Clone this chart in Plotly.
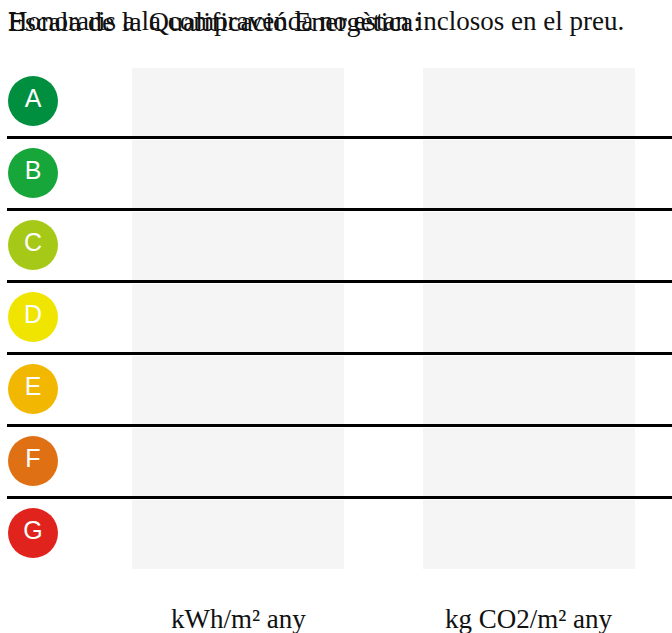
import plotly.graph_objects as go

# Data
grades = ["A", "B", "C", "D", "E", "F", "G"]
grade_colors = ["#008f3f", "#17a63a", "#a6c918", "#f0e500", "#f2b700", "#e07014", "#e0241d"]
columns = ["kWh/m² any", "kg CO2/m² any"]
title_text = "Escala de la Qualificació Energètica:"
note_text = "Honoraris a la compravenda no estan inclosos en el preu."

W, H = 672, 633
row0, pitch = 101, 72
col_left = [132, 423]
col_width = 212
serif = "Liberation Serif, Times New Roman, serif"

fig = go.Figure()

# gray value boxes (empty bars) per column
for c, lab in enumerate(columns):
    fig.add_trace(go.Bar(
        orientation="h",
        y=grades,
        x=[col_width] * len(grades),
        base=col_left[c],
        offset=(68 - row0) / pitch,
        width=69 / pitch,
        marker=dict(color="#f5f5f5", line=dict(width=0)),
        hoverinfo="skip",
        showlegend=False,
    ))

# separator lines between grades
for i in range(len(grades) - 1):
    yy = i + 0.5 + 0.5 / pitch
    fig.add_shape(type="line", xref="x", yref="y",
                  x0=7, x1=W, y0=yy, y1=yy,
                  line=dict(color="#000000", width=3), layer="above")

# grade circles
fig.add_trace(go.Scatter(
    x=[33] * len(grades),
    y=grades,
    mode="markers+text",
    marker=dict(size=50, color=grade_colors, line=dict(width=0)),
    text=grades,
    textposition="middle center",
    textfont=dict(family="Liberation Sans, Arial, sans-serif", size=25, color="white"),
    hoverinfo="skip",
    showlegend=False,
))

# column unit labels
for c, lab in enumerate(columns):
    fig.add_annotation(x=col_left[c] + col_width / 2, y=(619 - row0) / pitch,
                       xref="x", yref="y", text=lab, showarrow=False,
                       font=dict(family=serif, size=27, color="#111111"),
                       xanchor="center", yanchor="middle")

# overlapping header texts
for t, sz in [(title_text, 28), (note_text, 27)]:
    fig.add_annotation(x=6, y=(21 - row0) / pitch, xref="x", yref="y", text=t,
                       showarrow=False, xanchor="left", yanchor="middle",
                       font=dict(family=serif, size=sz, color="#111111"))

fig.update_layout(
    width=W, height=H,
    margin=dict(l=0, r=0, t=0, b=0),
    paper_bgcolor="white", plot_bgcolor="white",
    barmode="overlay",
    hovermode=False,
    xaxis=dict(range=[0, W], visible=False, fixedrange=True),
    yaxis=dict(type="category", categoryorder="array", categoryarray=grades,
               range=[(H - row0) / pitch, -row0 / pitch], visible=False, fixedrange=True),
    showlegend=False,
)

fig.write_html(
    "out.html",
    config={"displayModeBar": False},
    post_script="document.body.style.margin='0';document.body.style.padding='0';"
                "document.body.style.overflow='hidden';",
)
